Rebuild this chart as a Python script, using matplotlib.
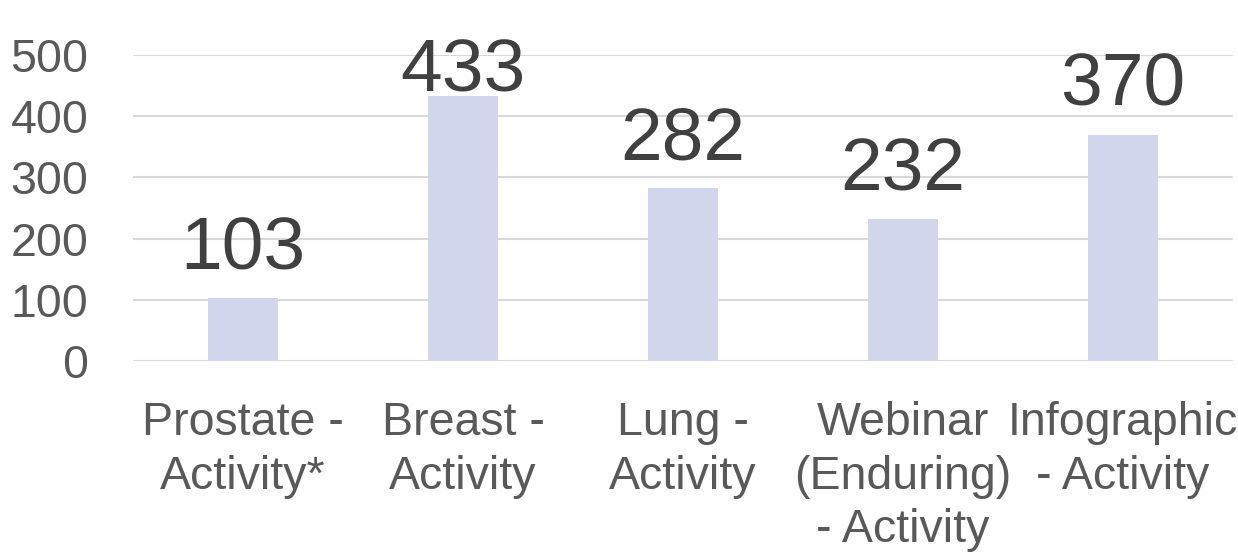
import matplotlib.pyplot as plt
from matplotlib import font_manager

categories = ["Prostate -\nActivity*", "Breast -\nActivity", "Lung -\nActivity",
              "Webinar\n(Enduring)\n- Activity", "Infographic\n- Activity"]
values = [103, 433, 282, 232, 370]

names = {f.name for f in font_manager.fontManager.ttflist}
family = "Liberation Sans Narrow" if "Liberation Sans Narrow" in names else "Liberation Sans"
plt.rcParams['font.family'] = [family, 'DejaVu Sans']

fig = plt.figure(figsize=(12.38, 5.58), dpi=100)
ax = fig.add_axes([133 / 1238, 197 / 558, 1100 / 1238, 306 / 558])

x = range(len(categories))
ax.bar(x, values, width=0.32, color='#D1D6EC', zorder=2)

ax.set_xlim(-0.5, len(categories) - 0.5)
ax.set_ylim(0, 500)
ax.set_yticks(range(0, 501, 100))
ax.yaxis.grid(True, color='#D9D9D9', linewidth=1.5, zorder=0)
ax.set_axisbelow(True)
for s in ax.spines.values():
    s.set_visible(False)

ax.tick_params(axis='y', length=0, pad=32, labelsize=33.5, labelcolor='#595959')
ax.tick_params(axis='x', length=0, pad=29, labelsize=33.5, labelcolor='#595959')
ax.set_xticks(list(x))
ax.set_xticklabels(categories, linespacing=1.28, ha='center', va='top')

# Datenbeschriftungen oben auf den Balken
for i, v in enumerate(values):
    y = min(v + 47, 440)
    ax.text(i, y, str(v), ha='center', va='baseline', fontsize=54, color='#404040')

fig.savefig('out.png', dpi=100)
